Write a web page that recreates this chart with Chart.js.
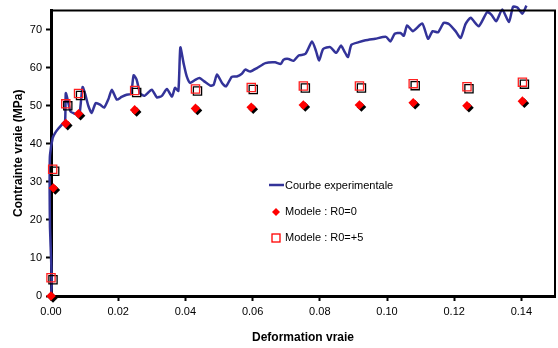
<!DOCTYPE html>
<html>
<head>
<meta charset="utf-8">
<script src="https://cdn.jsdelivr.net/npm/chart.js@4.4.1/dist/chart.umd.min.js"></script>
<style>
  html, body { margin: 0; padding: 0; background: #fff; }
  #wrap { width: 558px; height: 348px; }
</style>
</head>
<body>
<div id="wrap"><canvas id="myChart" width="558" height="348"></canvas></div>
<script>
// experimental curve (deformation, contrainte)
var expX = [0, 0.0002, 0.0001, -0.0003, -0.0004, -0.0004, -0.0003, 0.0005, 0.0012, 0.0022, 0.0035, 0.0042,
  0.0044, 0.0051, 0.0058, 0.0068, 0.0081, 0.0086, 0.0094, 0.0102, 0.0111, 0.0121, 0.0133, 0.0146, 0.0158,
  0.0172, 0.0181, 0.0196, 0.021, 0.0225, 0.0238, 0.0246, 0.0255, 0.0265, 0.0278, 0.030, 0.0315, 0.033,
  0.0345, 0.036, 0.0369, 0.0379, 0.0385, 0.0395, 0.0404, 0.0414, 0.0429, 0.0442, 0.0456, 0.0474, 0.0484,
  0.0494, 0.0509, 0.0521, 0.0538, 0.0553, 0.0568, 0.0578, 0.0593, 0.0613, 0.0638, 0.0667, 0.0684, 0.0692,
  0.0707, 0.0722, 0.0737, 0.0757, 0.0777, 0.0789, 0.0798, 0.081, 0.0831, 0.0849, 0.0863, 0.0873, 0.0884,
  0.0894, 0.0916, 0.0936, 0.0965, 0.0997, 0.101, 0.1023, 0.104, 0.105, 0.106, 0.1077, 0.1105, 0.1122,
  0.1136, 0.1152, 0.1169, 0.1184, 0.1204, 0.1219, 0.1234, 0.1249, 0.1273, 0.1298, 0.1311, 0.1325, 0.1343,
  0.1363, 0.1375, 0.1388, 0.1403, 0.1415];
var expY = [0, 3, 8, 18, 27, 33, 37, 41.5, 42.8, 44, 45.3, 46,
  53.3, 51, 48.5, 48, 47.6, 48.5, 54.9, 53, 50, 48.1, 50.7, 50.3, 49.5,
  52, 54.2, 51.6, 52.3, 52.9, 53.1, 58, 56.8, 53.3, 52.6, 54.2, 52.2, 52.6,
  54.4, 52.4, 54.7, 53.9, 65.3, 61, 57.7, 56, 56.8, 57.3, 56.4, 55.3, 55.5,
  58.2, 56, 55.1, 57.6, 57.7, 58.4, 59.5, 59, 59.9, 61.2, 61.4, 61, 62.1,
  62.3, 61.8, 63.2, 63.6, 66.9, 64.3, 61.9, 64.9, 65.4, 63.9, 65.8, 64.3, 62.8,
  66, 66.7, 67.2, 67.6, 68.1, 66.9, 68.9, 69.1, 68.4, 71.1, 69.6, 71.6, 67.6,
  69.6, 69.3, 71.8, 71.5, 69.6, 67.8, 71.5, 73.1, 70.9, 74.6, 73.9, 72.2, 75.3,
  72, 76, 75.8, 74.2, 76.3];

// model points
var r0X = [0, 0.0007, 0.0044, 0.0082, 0.0249, 0.043, 0.0596, 0.0751, 0.0918, 0.1078, 0.1238, 0.1403];
var r0Y = [0, 28.4, 45.3, 47.9, 48.9, 49.3, 49.6, 50.2, 50.2, 50.8, 50.0, 51.2];
var r5X = [0, 0.0005, 0.0044, 0.0082, 0.0249, 0.043, 0.0596, 0.0751, 0.0918, 0.1078, 0.1238, 0.1403];
var r5Y = [4.8, 33.3, 50.5, 53.2, 54.0, 54.4, 54.8, 55.2, 55.2, 55.8, 55.0, 56.2];

var labels = ["Courbe experimentale", "Modele : R0=0", "Modele : R0=+5"];
var xTicks = [0, 0.02, 0.04, 0.06, 0.08, 0.10, 0.12, 0.14];
var yTicks = [0, 10, 20, 30, 40, 50, 60, 70];

var FONT = "'Liberation Sans', Arial, sans-serif";

function toPoints(xs, ys) {
  var pts = [];
  for (var i = 0; i < xs.length; i++) pts.push({ x: xs[i], y: ys[i] });
  return pts;
}

// black offset shadow under the model markers
var shadowPlugin = {
  id: 'markerShadow',
  beforeDatasetDraw: function(chart, args) {
    if (args.index === 0) return;
    var ctx = chart.ctx;
    ctx.save();
    ctx.shadowColor = '#000';
    ctx.shadowOffsetX = 2;
    ctx.shadowOffsetY = 2;
    ctx.shadowBlur = 0;
  },
  afterDatasetDraw: function(chart, args) {
    if (args.index === 0) return;
    chart.ctx.restore();
  }
};

// plot frame + legend inside the plot
var framePlugin = {
  id: 'frame',
  afterDraw: function(chart) {
    var ctx = chart.ctx;
    var a = chart.chartArea;
    ctx.save();
    ctx.strokeStyle = '#000';
    ctx.lineWidth = 2;
    ctx.beginPath();
    ctx.moveTo(a.left, a.top);
    ctx.lineTo(a.right, a.top);
    ctx.lineTo(a.right, a.bottom);
    ctx.stroke();

    var ds = chart.data.datasets;
    ctx.font = '11px ' + FONT;
    ctx.fillStyle = '#000';
    ctx.textBaseline = 'middle';
    ctx.textAlign = 'left';
    // line sample
    ctx.strokeStyle = ds[0].borderColor;
    ctx.lineWidth = 2.5;
    ctx.beginPath();
    ctx.moveTo(269, 185);
    ctx.lineTo(284, 185);
    ctx.stroke();
    ctx.fillText(ds[0].label, 285, 186);
    // diamond
    ctx.fillStyle = '#f00';
    ctx.beginPath();
    ctx.moveTo(276, 208);
    ctx.lineTo(280, 212);
    ctx.lineTo(276, 216);
    ctx.lineTo(272, 212);
    ctx.closePath();
    ctx.fill();
    ctx.fillStyle = '#000';
    ctx.fillText(ds[1].label, 285, 212);
    // square
    ctx.strokeStyle = '#f00';
    ctx.lineWidth = 1.3;
    ctx.strokeRect(272, 234, 8, 8);
    ctx.fillText(ds[2].label, 285, 238);
    ctx.restore();
  }
};

var ctx = document.getElementById('myChart').getContext('2d');
var myChart = new Chart(ctx, {
  type: 'scatter',
  data: {
    datasets: [{
      label: labels[0],
      data: toPoints(expX, expY),
      showLine: true,
      borderColor: '#333399',
      borderWidth: 2.5,
      pointRadius: 0,
      tension: 0.2,
      clip: false,
      order: 3
    }, {
      label: labels[1],
      data: toPoints(r0X, r0Y),
      pointStyle: 'rectRot',
      pointRadius: 4.8,
      backgroundColor: '#ff0000',
      borderColor: '#ff0000',
      borderWidth: 0,
      clip: false,
      order: 1
    }, {
      label: labels[2],
      data: toPoints(r5X, r5Y),
      pointStyle: 'rect',
      pointRadius: 5.8,
      backgroundColor: 'rgba(0,0,0,0)',
      borderColor: '#ff2020',
      borderWidth: 1.3,
      clip: false,
      order: 2
    }]
  },
  options: {
    responsive: false,
    animation: false,
    layout: { autoPadding: false, padding: { top: 10, right: 3, left: 0, bottom: 0 } },
    plugins: {
      legend: { display: false },
      tooltip: { enabled: false }
    },
    scales: {
      x: {
        type: 'linear',
        min: 0,
        max: 0.15,
        afterBuildTicks: function(scale) {
          scale.ticks = xTicks.map(function(v) { return { value: v }; });
        },
        afterFit: function(scale) {
          scale.height = 52;
          scale.paddingLeft = 0;
          scale.paddingRight = 0;
        },
        grid: { drawOnChartArea: false, drawTicks: true, tickLength: 5, color: '#000', tickWidth: 2 },
        border: { display: true, color: '#000', width: 3 },
        ticks: {
          color: '#000',
          padding: 4,
          maxRotation: 0,
          font: { family: FONT, size: 11 },
          callback: function(v) { return v.toFixed(2); }
        },
        title: {
          display: true,
          text: 'Deformation vraie',
          color: '#000',
          font: { family: FONT, size: 12, weight: 'bold' },
          padding: { top: 0, bottom: 3 }
        }
      },
      y: {
        type: 'linear',
        min: 0,
        max: 75,
        afterBuildTicks: function(scale) {
          scale.ticks = yTicks.map(function(v) { return { value: v }; });
        },
        afterFit: function(scale) { scale.width = 51; },
        grid: { drawOnChartArea: false, drawTicks: true, tickLength: 5, color: '#000', tickWidth: 2 },
        border: { display: true, color: '#000', width: 3 },
        ticks: {
          color: '#000',
          padding: 4,
          font: { family: FONT, size: 11 }
        },
        title: {
          display: true,
          text: 'Contrainte vraie (MPa)',
          color: '#000',
          font: { family: FONT, size: 12, weight: 'bold' },
          padding: { top: 11, bottom: 0 }
        }
      }
    }
  },
  plugins: [shadowPlugin, framePlugin]
});
</script>
</body>
</html>
